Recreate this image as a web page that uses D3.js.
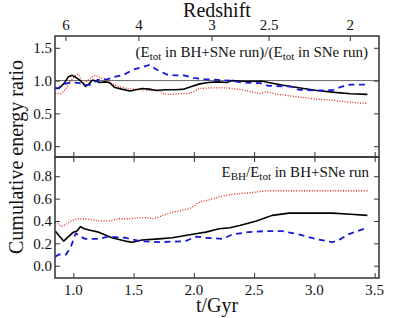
<!DOCTYPE html>
<html>
<head>
<meta charset="utf-8">
<script src="https://cdn.jsdelivr.net/npm/d3@7"></script>
<style>
  html, body { margin: 0; padding: 0; background: #fff; }
  text, tspan { font-family: "Liberation Serif"; }
</style>
</head>
<body>
<svg id="chart" width="399" height="318" font-family="Liberation Serif"></svg>
<script>
// --- data ---
// time (Gyr) ticks and redshift ticks (redshift placed at its cosmic time)
const timeTicks = [1.0, 1.5, 2.0, 2.5, 3.0, 3.5];
const redshiftLabels = ['6', '4', '3', '2.5', '2'];
const redshiftTimes = [0.939, 1.544, 2.151, 2.624, 3.298];
const ratioTicks = [0.0, 0.5, 1.0, 1.5];
const fracTicks = [0.0, 0.2, 0.4, 0.6, 0.8];

// top panel: E_tot(BH+SNe) / E_tot(SNe)
const ratioBlack = [[0.85,0.88],[0.88,0.88],[0.92,0.95],[0.96,1.06],[0.99,1.08],[1.02,1.05],[1.05,1.01],[1.08,0.96],[1.10,0.91],[1.13,0.95],[1.16,1.01],[1.19,0.99],[1.22,0.97],[1.26,0.98],[1.30,0.97],[1.34,0.90],[1.40,0.87],[1.47,0.84],[1.52,0.86],[1.57,0.88],[1.63,0.87],[1.69,0.85],[1.76,0.86],[1.85,0.86],[1.92,0.87],[1.98,0.91],[2.05,0.95],[2.12,0.97],[2.20,0.98],[2.27,0.97],[2.32,1.00],[2.40,0.99],[2.50,0.99],[2.57,0.99],[2.65,0.96],[2.74,0.93],[2.87,0.89],[3.02,0.85],[3.17,0.82],[3.30,0.80],[3.44,0.79]];
const ratioRed = [[0.85,0.80],[0.90,0.80],[0.94,0.88],[0.98,1.00],[1.02,1.08],[1.04,1.10],[1.06,1.03],[1.08,0.95],[1.12,1.00],[1.15,1.05],[1.18,1.08],[1.22,1.05],[1.26,1.02],[1.30,0.97],[1.36,0.92],[1.44,0.88],[1.50,0.87],[1.55,0.86],[1.63,0.85],[1.70,0.86],[1.76,0.79],[1.82,0.79],[1.87,0.80],[1.95,0.80],[2.00,0.83],[2.05,0.88],[2.15,0.89],[2.27,0.89],[2.40,0.86],[2.50,0.82],[2.55,0.80],[2.60,0.83],[2.70,0.79],[2.87,0.75],[3.00,0.72],[3.15,0.70],[3.30,0.67],[3.44,0.65]];
const ratioBlue = [[0.85,0.88],[0.88,0.89],[0.91,0.94],[0.95,0.96],[1.00,0.97],[1.05,0.96],[1.10,0.93],[1.15,0.94],[1.20,1.01],[1.28,1.02],[1.35,1.06],[1.42,1.09],[1.50,1.17],[1.58,1.21],[1.635,1.24],[1.68,1.18],[1.72,1.14],[1.78,1.09],[1.85,1.08],[1.92,1.08],[2.00,1.04],[2.10,1.02],[2.20,1.01],[2.30,1.00],[2.40,0.97],[2.55,0.96],[2.62,0.92],[2.80,0.91],[2.87,0.86],[3.00,0.85],[3.10,0.85],[3.16,0.86],[3.23,0.91],[3.30,0.94],[3.44,0.94]];

// bottom panel: E_BH / E_tot in BH+SNe run
const fracBlack = [[0.85,0.31],[0.88,0.27],[0.92,0.22],[0.96,0.26],[1.00,0.30],[1.03,0.31],[1.06,0.35],[1.09,0.33],[1.13,0.32],[1.21,0.30],[1.32,0.25],[1.43,0.22],[1.49,0.21],[1.57,0.23],[1.71,0.24],[1.82,0.25],[1.93,0.27],[2.04,0.29],[2.10,0.30],[2.21,0.33],[2.30,0.34],[2.38,0.36],[2.45,0.38],[2.52,0.40],[2.60,0.43],[2.65,0.45],[2.79,0.47],[3.15,0.47],[3.30,0.46],[3.44,0.45]];
const fracRed = [[0.85,0.39],[0.88,0.37],[0.90,0.35],[0.94,0.37],[0.98,0.40],[1.03,0.42],[1.10,0.42],[1.16,0.41],[1.21,0.40],[1.30,0.40],[1.38,0.42],[1.47,0.42],[1.55,0.43],[1.62,0.43],[1.66,0.42],[1.72,0.44],[1.77,0.46],[1.83,0.48],[1.88,0.49],[1.96,0.51],[2.00,0.53],[2.02,0.55],[2.05,0.57],[2.13,0.59],[2.21,0.615],[2.32,0.64],[2.45,0.65],[2.60,0.67],[2.87,0.67],[3.44,0.67]];
const fracBlue = [[0.85,0.08],[0.88,0.10],[0.94,0.10],[0.98,0.17],[1.02,0.29],[1.06,0.26],[1.10,0.24],[1.21,0.24],[1.29,0.26],[1.43,0.25],[1.55,0.22],[1.71,0.21],[1.93,0.22],[2.02,0.26],[2.10,0.25],[2.24,0.24],[2.32,0.28],[2.45,0.30],[2.60,0.31],[2.73,0.31],[2.87,0.28],[3.01,0.24],[3.15,0.21],[3.22,0.24],[3.28,0.28],[3.36,0.31],[3.44,0.34]];

// --- layout ---
const mLeft = 55, mRight = 379, mTop = 36, mMid = 157, mBottom = 278;
const tickLen = 5;
const frameColor = '#333';
const textColor = '#111';
const fontName = 'Liberation Serif';

const svg = d3.select('#chart');

const x = d3.scaleLinear().domain([0.848, 3.536]).range([mLeft, mRight]);
const yTop = d3.scaleLinear().domain([-0.165, 1.68]).range([mMid, mTop]);
const yBot = d3.scaleLinear().domain([-0.11, 0.972]).range([mBottom, mMid]);

const styles = {
  black: { stroke: '#000', width: 1.6, dash: null },
  red: { stroke: '#e0201c', width: 1.3, dash: '1,1.6' },
  blue: { stroke: '#1818d8', width: 1.8, dash: '6,4.5' },
};

// every text gets the serif font both as attribute and as style
const serifText = (sel) => sel
  .attr('font-family', fontName)
  .style('font-family', fontName)
  .attr('fill', textColor);

function drawPanel(y, yTicks, seriesList) {
  const g = svg.append('g');

  // mirrored inward ticks
  g.append('g')
    .attr('transform', `translate(${mLeft},0)`)
    .call(d3.axisRight(y).tickValues(yTicks).tickSize(tickLen).tickFormat(''));
  g.append('g')
    .attr('transform', `translate(${mRight},0)`)
    .call(d3.axisLeft(y).tickValues(yTicks).tickSize(tickLen).tickFormat(''));
  g.append('g')
    .attr('transform', `translate(0,${y.range()[0]})`)
    .call(d3.axisTop(x).tickValues(timeTicks).tickSize(tickLen).tickFormat(''));
  g.selectAll('.domain').remove();
  g.selectAll('.tick line').attr('stroke', frameColor).attr('stroke-width', 1);

  // y tick labels
  g.selectAll('text.ylab')
    .data(yTicks)
    .join('text')
    .attr('class', 'ylab')
    .attr('x', mLeft - 3)
    .attr('y', (d) => y(d))
    .attr('dy', '0.35em')
    .attr('text-anchor', 'end')
    .attr('font-size', 15)
    .call(serifText)
    .text((d) => d.toFixed(1));

  const line = d3.line()
    .x((d) => x(d[0]))
    .y((d) => y(d[1]));

  seriesList.forEach(([data, st]) => {
    g.append('path')
      .datum(data)
      .attr('fill', 'none')
      .attr('stroke', st.stroke)
      .attr('stroke-width', st.width)
      .attr('stroke-dasharray', st.dash)
      .attr('stroke-linejoin', 'round')
      .attr('d', line);
  });
  return g;
}

// reference line at ratio = 1
svg.append('line')
  .attr('x1', mLeft).attr('x2', mRight)
  .attr('y1', yTop(1)).attr('y2', yTop(1))
  .attr('stroke', '#666').attr('stroke-width', 1);

drawPanel(yTop, ratioTicks, [[ratioRed, styles.red], [ratioBlack, styles.black], [ratioBlue, styles.blue]]);
drawPanel(yBot, fracTicks, [[fracRed, styles.red], [fracBlack, styles.black], [fracBlue, styles.blue]]);

// ticks hanging down from the divider into the lower panel
const divTicks = svg.append('g')
  .attr('transform', `translate(0,${mMid})`)
  .call(d3.axisBottom(x).tickValues(timeTicks).tickSize(tickLen).tickFormat(''));
divTicks.select('.domain').remove();
divTicks.selectAll('.tick line').attr('stroke', frameColor);

// redshift axis on top
const zScale = d3.scaleOrdinal().domain(redshiftLabels).range(redshiftTimes.map((t) => x(t)));
svg.selectAll('line.ztick')
  .data(redshiftLabels)
  .join('line')
  .attr('class', 'ztick')
  .attr('x1', (d) => zScale(d)).attr('x2', (d) => zScale(d))
  .attr('y1', mTop).attr('y2', mTop + tickLen)
  .attr('stroke', frameColor);
svg.selectAll('text.zlab')
  .data(redshiftLabels)
  .join('text')
  .attr('class', 'zlab')
  .attr('x', (d) => zScale(d))
  .attr('y', 30)
  .attr('text-anchor', 'middle')
  .attr('font-size', 15)
  .call(serifText)
  .text((d) => d);

// time tick labels
svg.selectAll('text.tlab')
  .data(timeTicks)
  .join('text')
  .attr('class', 'tlab')
  .attr('x', (d) => x(d))
  .attr('y', 295)
  .attr('text-anchor', 'middle')
  .attr('font-size', 15)
  .call(serifText)
  .text((d) => d.toFixed(1));

// frames
[[mTop, mMid], [mMid, mBottom]].forEach(([a, b]) => {
  svg.append('rect')
    .attr('x', mLeft).attr('y', a)
    .attr('width', mRight - mLeft).attr('height', b - a)
    .attr('fill', 'none')
    .attr('stroke', frameColor)
    .attr('stroke-width', 1.5);
});

// axis titles
svg.append('text')
  .attr('x', (mLeft + mRight) / 2).attr('y', 17)
  .attr('text-anchor', 'middle').attr('font-size', 20)
  .call(serifText)
  .text('Redshift');
svg.append('text')
  .attr('x', (mLeft + mRight) / 2).attr('y', 312)
  .attr('text-anchor', 'middle').attr('font-size', 20)
  .call(serifText)
  .text('t/Gyr');
svg.append('text')
  .attr('transform', `translate(23,${(mTop + mBottom) / 2}) rotate(-90)`)
  .attr('text-anchor', 'middle').attr('font-size', 20)
  .call(serifText)
  .text('Cumulative energy ratio');

// panel annotations with subscripts
function subText(xp, yp, parts) {
  const t = svg.append('text')
    .attr('x', xp).attr('y', yp)
    .attr('text-anchor', 'end')
    .attr('font-size', 15)
    .call(serifText);
  let wasSub = false;
  parts.forEach(([s, sub]) => {
    const ts = t.append('tspan').call(serifText).text(s);
    if (sub) ts.attr('font-size', 11).attr('dy', 3);
    else if (wasSub) ts.attr('dy', -3);
    wasSub = sub;
  });
}
subText(368, 57, [['(E', false], ['tot', true], [' in BH+SNe run)/(E', false], ['tot', true], [' in SNe run)', false]]);
subText(369, 177, [['E', false], ['BH', true], ['/E', false], ['tot', true], [' in BH+SNe run', false]]);
</script>
</body>
</html>
